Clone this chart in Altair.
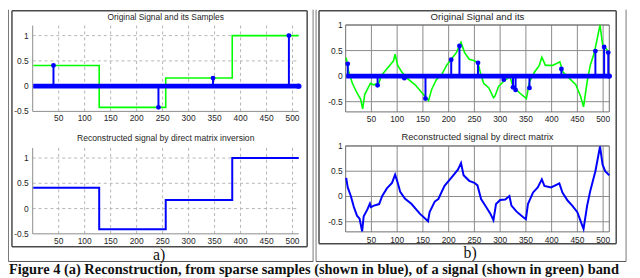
import altair as alt
import pandas as pd

# ---------------- data ----------------
# panel a: piecewise-constant signal, its 4 samples, and the reconstruction
a_step_x = [1, 128, 128, 256, 256, 384, 384, 512]
a_orig_y = [0.41, 0.41, -0.42, -0.42, 0.16, 0.16, 1.0, 1.0]
a_rec_y = [0.41, 0.41, -0.41, -0.41, 0.17, 0.17, 1.0, 1.0]
a_sample_x = [40, 242, 347, 493]
a_sample_y = [0.41, -0.42, 0.16, 1.0]

# panel b: band-limited signal (green), samples (blue) and reconstruction (blue)
b_orig_x = [1, 6, 13, 22, 29, 33, 37, 45, 48, 54, 64, 70, 83, 93, 96, 101, 109, 119,
            135, 151, 161, 167, 176, 186, 196, 205, 215, 224, 231, 240, 250, 257, 262,
            268, 278, 287, 290, 297, 306, 319, 325, 338, 351, 357, 367, 376, 381, 388,
            402, 416, 422, 434, 447, 456, 462, 469, 475, 483, 494, 499, 507, 512]
b_orig_y = [0.36, 0.08, -0.14, -0.33, -0.45, -0.64, -0.36, -0.20, -0.14, -0.17, -0.14,
            0.02, 0.18, 0.30, 0.43, 0.21, 0.08, -0.04, -0.17, -0.36, -0.48, -0.26, -0.07,
            0.02, 0.21, 0.33, 0.46, 0.66, 0.46, 0.33, 0.30, 0.26, 0.05, -0.14, -0.23,
            -0.42, -0.39, -0.20, -0.11, -0.01, -0.20, -0.33, -0.44, -0.11, 0.08, 0.21,
            0.37, 0.21, 0.21, 0.28, 0.08, -0.04, -0.17, -0.39, -0.60, -0.11, 0.21, 0.46,
            1.0, 0.62, 0.52, 0.46]
b_rec_x = [1, 4, 10, 16, 22, 27, 32, 35, 42, 47, 49, 55, 65, 71, 80, 90, 96, 100, 106,
           115, 128, 144, 160, 163, 173, 180, 192, 205, 218, 224, 229, 240, 250, 256, 263,
           271, 281, 287, 292, 300, 310, 318, 322, 332, 345, 350, 354, 364, 373, 381, 386,
           399, 415, 421, 431, 440, 450, 459, 462, 469, 475, 485, 494, 499, 504, 510, 512]
b_rec_y = [0.37, 0.18, 0.01, -0.21, -0.38, -0.44, -0.69, -0.39, -0.26, -0.14, -0.21,
           -0.18, -0.15, 0.01, 0.16, 0.27, 0.43, 0.31, 0.09, -0.04, -0.15, -0.34, -0.49,
           -0.31, -0.10, -0.05, 0.21, 0.37, 0.53, 0.66, 0.42, 0.31, 0.27, 0.22, -0.05,
           -0.18, -0.34, -0.47, -0.15, -0.07, -0.06, 0.01, -0.18, -0.30, -0.41, -0.45,
           -0.15, 0.08, 0.18, 0.34, 0.21, 0.18, 0.26, 0.08, -0.08, -0.18, -0.31, -0.56,
           -0.64, -0.18, 0.11, 0.50, 0.99, 0.63, 0.50, 0.44, 0.42]
b_sample_x = [4, 62, 114, 155, 205, 221, 257, 307, 325, 330, 357, 419, 485, 502, 510]
b_sample_y = [0.24, -0.18, -0.04, -0.44, 0.32, 0.59, 0.26, -0.07, -0.22, -0.27, -0.23,
              0.14, 0.49, 0.57, 0.46]

# zero-valued samples drawn as the thick baseline of the stem plot
baseline_x = [1, 512]
baseline_y = [0, 0]

x_ticks = [50, 100, 150, 200, 250, 300, 350, 400, 450, 500]
y_ticks = [-0.5, 0, 0.5, 1]
y_tick_labels = ["-0.5", "0", "0.5", "1"]

titles_a = ["Original Signal and its Samples", "Reconstructed signal by direct matrix inversion"]
titles_b = ["Original Signal and its", "Reconstructed signal by direct matrix"]
panel_labels = ["a)", "b)"]
caption = ("Figure 4 (a) Reconstruction, from sparse samples (shown in blue), "
           "of a signal (shown in green) band")

# ---------------- styling ----------------
BLUE = "#0000ff"
GREEN = "#00ff00"
TXT = "#262626"
SANS = "Liberation Sans, Arial, sans-serif"
SERIF = "Liberation Serif, Times New Roman, serif"


def subplot(xr, yr, ydom, title, title_size, title_dy, xlab_dy, ylab_dx, matlab_old,
            lines, samples):
    xs = alt.Scale(domain=[0, 512], range=xr, nice=False, zero=False)
    ys = alt.Scale(domain=ydom, range=yr, nice=False, zero=False)
    ymin, ymax = ydom
    layers = []

    df_xt = pd.DataFrame({"t": x_ticks, "lab": [str(v) for v in x_ticks]})
    df_yt = pd.DataFrame({"t": y_ticks, "lab": y_tick_labels})

    if matlab_old:
        gcolor, gdash, gw = "#b5b5b5", [3, 3], 1
    else:
        gcolor, gdash, gw = "#8a8a8a", [], 1

    layers.append(alt.Chart(df_xt).mark_rule(color=gcolor, strokeDash=gdash, strokeWidth=gw).encode(
        x=alt.X("t:Q", scale=xs, axis=None),
        y=alt.YDatum(ymin, type="quantitative", scale=ys, axis=None),
        y2=alt.Y2Datum(ymax)))
    layers.append(alt.Chart(df_yt[df_yt.t > ymin]).mark_rule(color=gcolor, strokeDash=gdash, strokeWidth=gw).encode(
        y=alt.Y("t:Q", scale=ys, axis=None),
        x=alt.XDatum(0, type="quantitative", scale=xs, axis=None),
        x2=alt.X2Datum(512)))

    if matlab_old:
        # left and bottom axis lines
        layers.append(alt.Chart(pd.DataFrame({"v": [0]})).mark_rule(color="#8c8c8c", strokeWidth=1).encode(
            x=alt.X("v:Q", scale=xs, axis=None),
            y=alt.YDatum(ymin, type="quantitative", scale=ys, axis=None),
            y2=alt.Y2Datum(ymax)))
        layers.append(alt.Chart(pd.DataFrame({"v": [ymin]})).mark_rule(color="#8c8c8c", strokeWidth=1).encode(
            y=alt.Y("v:Q", scale=ys, axis=None),
            x=alt.XDatum(0, type="quantitative", scale=xs, axis=None),
            x2=alt.X2Datum(512)))
    else:
        layers.append(alt.Chart(pd.DataFrame({"v": [0]})).mark_rect(
            fillOpacity=0, stroke="#6e6e6e", strokeWidth=1).encode(
            x=alt.XDatum(0, type="quantitative", scale=xs, axis=None),
            x2=alt.X2Datum(512),
            y=alt.YDatum(ymin, type="quantitative", scale=ys, axis=None),
            y2=alt.Y2Datum(ymax)))

    # tick labels
    layers.append(alt.Chart(df_xt).mark_text(
        font=SANS, fontSize=8.5, color=TXT, baseline="middle", dy=xlab_dy).encode(
        x=alt.X("t:Q", scale=xs, axis=None),
        y=alt.YDatum(ymin, type="quantitative", scale=ys, axis=None),
        text="lab:N"))
    layers.append(alt.Chart(df_yt).mark_text(
        font=SANS, fontSize=8.5, color=TXT, align="right", baseline="middle", dx=ylab_dx).encode(
        y=alt.Y("t:Q", scale=ys, axis=None),
        x=alt.XDatum(0, type="quantitative", scale=xs, axis=None),
        text="lab:N"))
    # title
    layers.append(alt.Chart(pd.DataFrame({"lab": [title]})).mark_text(
        font=SANS, fontSize=title_size, color=TXT, baseline="middle", dy=title_dy).encode(
        x=alt.XDatum(256, type="quantitative", scale=xs, axis=None),
        y=alt.YDatum(ymax, type="quantitative", scale=ys, axis=None),
        text="lab:N"))

    # data lines
    for (lx, ly, color, width) in lines:
        df = pd.DataFrame({"x": lx, "y": ly, "i": range(len(lx))})
        layers.append(alt.Chart(df).mark_line(color=color, strokeWidth=width).encode(
            x=alt.X("x:Q", scale=xs, axis=None),
            y=alt.Y("y:Q", scale=ys, axis=None),
            order="i:Q"))

    if samples is not None:
        sx, sy = samples
        dfb = pd.DataFrame({"x": baseline_x, "y": baseline_y})
        layers.append(alt.Chart(dfb).mark_line(color=BLUE, strokeWidth=5).encode(
            x=alt.X("x:Q", scale=xs, axis=None),
            y=alt.Y("y:Q", scale=ys, axis=None)))
        layers.append(alt.Chart(dfb.tail(1)).mark_circle(color=BLUE, opacity=1, size=30).encode(
            x=alt.X("x:Q", scale=xs, axis=None),
            y=alt.Y("y:Q", scale=ys, axis=None)))
        dfs = pd.DataFrame({"x": sx, "y": sy})
        layers.append(alt.Chart(dfs).mark_rule(color=BLUE, strokeWidth=2).encode(
            x=alt.X("x:Q", scale=xs, axis=None),
            y=alt.Y("y:Q", scale=ys, axis=None),
            y2=alt.Y2Datum(0)))
        layers.append(alt.Chart(dfs).mark_circle(color=BLUE, opacity=1, size=24).encode(
            x=alt.X("x:Q", scale=xs, axis=None),
            y=alt.Y("y:Q", scale=ys, axis=None)))

    return alt.layer(*layers)


pa_top = subplot([25, 294.5], [103, 16], [-0.5, 1.2], titles_a[0], 8.5, -9, 7, -4, True,
                 [(a_step_x, a_orig_y, GREEN, 1.6)], (a_sample_x, a_sample_y))
pa_bot = subplot([25, 294.5], [227, 140], [-0.5, 1.2], titles_a[1], 8.7, -10, 7, -4, True,
                 [(a_step_x, a_rec_y, BLUE, 2)], None)
pb_top = subplot([342, 609], [103.5, 15.5], [-0.7, 1.0], titles_b[0], 9.8, -8.5, 7, -3, False,
                 [(b_orig_x, b_orig_y, GREEN, 1.6)], (b_sample_x, b_sample_y))
pb_bot = subplot([342, 609], [225, 138], [-0.7, 1.0], titles_b[1], 9.4, -9.5, 8, -3, False,
                 [(b_rec_x, b_rec_y, BLUE, 2)], None)


# ---------------- decorations (frames, panel labels, caption) ----------------
def hrule(x1, x2, y, color, w):
    return alt.Chart(pd.DataFrame({"k": [0]})).mark_rule(color=color, strokeWidth=w).encode(
        x=alt.value(x1), x2=alt.value(x2), y=alt.value(y))


def vrule(x, y1, y2, color, w):
    return alt.Chart(pd.DataFrame({"k": [0]})).mark_rule(color=color, strokeWidth=w).encode(
        x=alt.value(x), y=alt.value(y1), y2=alt.value(y2))


FR = "#4a4a4a"
deco = [
    # panel a inner frame
    hrule(4, 303, 1, FR, 1.5), hrule(4, 303, 240, FR, 1.5),
    vrule(4, 1, 240, FR, 1.5), vrule(303, 1, 240, FR, 1.5),
    # panel a outer frame
    vrule(0.5, 0, 255, "#777777", 1), vrule(309, 0, 255, "#777777", 1), hrule(0.5, 309, 255, "#555555", 1),
    # panel b inner frame
    hrule(315, 616, 1, FR, 1.5), hrule(315, 616, 237, FR, 1.5),
    vrule(315, 1, 237, FR, 1.5), vrule(616, 1, 237, FR, 1.5),
    # panel b outer frame
    vrule(312, 0, 255, "#777777", 1), vrule(626, 0, 255, "#777777", 1), hrule(312, 626, 255, "#555555", 1),
]

lab_df = pd.DataFrame({"lab": panel_labels})
deco.append(alt.Chart(lab_df.head(1)).mark_text(font=SERIF, fontSize=16, color="#111", baseline="middle").encode(
    x=alt.value(153), y=alt.value(248), text="lab:N"))
deco.append(alt.Chart(lab_df.tail(1)).mark_text(font=SERIF, fontSize=16, color="#111", baseline="middle").encode(
    x=alt.value(468), y=alt.value(246), text="lab:N"))
deco.append(alt.Chart(pd.DataFrame({"lab": [caption]})).mark_text(
    font=SERIF, fontSize=14.6, fontWeight="bold", color="#111", align="left", baseline="alphabetic").encode(
    x=alt.value(1), y=alt.value(268), text="lab:N"))

chart = alt.layer(pa_top, pa_bot, pb_top, pb_bot, *deco).resolve_scale(
    x="independent", y="independent"
).properties(
    width=632, height=270, padding=0,
    autosize=alt.AutoSizeParams(type="none"),
    background="white",
).configure_view(stroke=None)

chart.save("out.html", embed_options={"renderer": "svg", "actions": False})
